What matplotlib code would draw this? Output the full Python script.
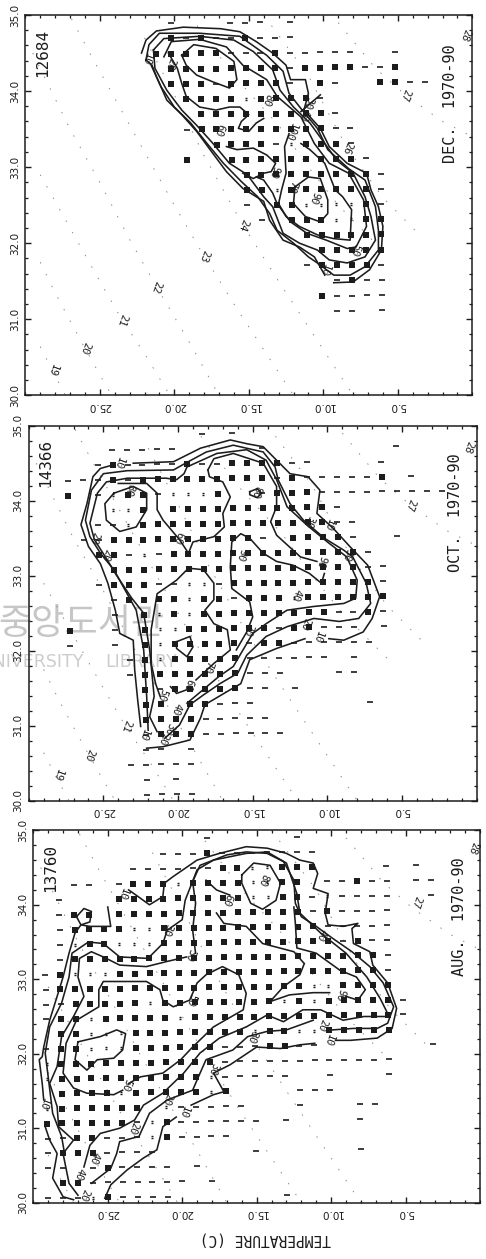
import numpy as np
import matplotlib
matplotlib.use('Agg')
import matplotlib.pyplot as plt
from matplotlib.path import Path
from matplotlib.ticker import MultipleLocator, FixedLocator, FormatStrFormatter
from matplotlib.transforms import Affine2D

INK = '#1c1c1c'
MONO = 'DejaVu Sans Mono'
W, H = 486, 1259
GAP = (np.nan, np.nan)

# station density cells: one string per salinity row, columns are temperature 29..1
# '.' empty, '-' few casts, ':' more, 'o' many
dec_cells = [
    ".........-...---.-",
    ".........o-o--o---",
    "........ooooo---o-----..-",
    ".........oooooooo-oooo--o",
    ".........ooo-oooo-.o-..oo--",
    "..........oooo:oooo-",
    "...........ooooooooo-",
    "..........-ooooooooo--",
    "............oooo-:ooo-",
    "..........o..ooooooooo-",
    "..............ooooooooo-",
    "..............oo:oooooo-",
    "..............-.oo::::o-",
    "...............-.ooo::oo",
    "..................oooooo",
    "...................ooooo",
    "..................-oooo-",
    "....................-o--",
    "...................o----",
    "....................--.-",
]
oct_cells = [
    "...........-.-",
    ".....-----.....-........-",
    "....-o----o--oooo--....-",
    "..---o-ooooooooo-o-----o.-",
    "..o.-:oo-:::o..-ooo---------",
    ".....::o.ooooooooooo-",
    "....--:ooooooooooooo--",
    "...--oooooooooo-.oooo-..-",
    "....oo-:-ooooooooooooo-",
    ".....ooooooooooooooooo--",
    "....-ooo--::-oooooooooo-",
    ".....-oooo:oo-ooo:oooooo",
    ".....-.o:o:ooooooooo--o-",
    "..o..-.o::oooooo-oo---.-",
    "..-..-.o:ooooo-oo------",
    "......-o:ooooo------.-",
    "......-ooooooo---...--",
    ".......o-ooooo--.-",
    ".......oo.oo---.......-",
    ".......oooo-----",
    ".......-ooo------",
    ".......--.-",
    "......-----",
    ".......-.-",
    ".......----",
]
aug_cells = [
    "...........-.....-",
    "........---o-------",
    "......------oo::ooo....-.-",
    "..--.-ooo:oooo::oo.--o--.--",
    ".-...ooooooooo::oo-:----..-",
    ".-oo.ooooooooooooo-o----",
    ".-oooo::ooooooooooo-----",
    ".-:oo:::oooooooooooo-o--",
    ".-ooooooooooooooooooooo-",
    "-o:::oooooooooooooooooo-",
    "-ooooooooooooooooo::oooo",
    "--ooooo:oooooooo:o:ooooo-",
    "-oo:ooooo:oooooooooooooo-",
    ".oo:::oooooooo:oo::ooooo",
    "-oo:::oooooo---oo--.......-",
    ":ooooooooooo------------",
    ":oooooooooo:-----..-...-",
    ".oooo:ooooo:o....---",
    ":oooooo.:-----...-...--",
    "oooooo-:o------.-....-",
    "--oo---:o----",
    "-ooo----......-......-",
    "--.-o----.-",
    ".oo-------.-",
    "---:o----.......-",
]
cell_temps_dec = [t + 0.13 for t in range(29, 0, -1)]
cell_temps_oct = [t + 0.25 for t in range(29, 0, -1)]
cell_temps_aug = [t + 0.15 for t in range(29, 0, -1)]
cell_sal_top = 34.9

# isopycnals, same in every panel (temperature, salinity)
sigma_19 = [(29.0, 30.64), (28.2, 30.33), (27.3, 30.0)]
sigma_20 = [(29.0, 31.75), (28.0, 31.35), (27.0, 30.98), (26.0, 30.62), (25.0, 30.27), (24.2, 30.0)]
sigma_21 = [(29.0, 32.9), (27.0, 32.2), (25.0, 31.5), (23.5, 30.99), (22.0, 30.55), (20.3, 30.0)]
sigma_22 = [(29.5, 34.5), (27.0, 33.5), (25.0, 32.8), (23.0, 32.05), (21.2, 31.43), (19.0, 30.7), (17.0, 30.0)]
sigma_23 = [(26.9, 34.95), (25.4, 34.4), (22.0, 33.2), (20.0, 32.5), (18.0, 31.83), (16.0, 31.2), (14.0, 30.6), (12.0, 30.0)]
sigma_24 = [(22.0, 34.7), (20.0, 33.95), (18.0, 33.15), (15.4, 32.24), (13.0, 31.5), (11.0, 30.9), (9.0, 30.3), (8.0, 30.0)]
sigma_25 = [(19.0, 35.0), (16.0, 34.2), (13.0, 33.55), (11.0, 33.0), (9.0, 32.5), (6.0, 31.9)]
sigma_26 = [(14.0, 35.0), (11.0, 34.2), (8.4, 33.25), (6.0, 32.6), (3.5, 32.1)]
sigma_27 = [(9.0, 34.9), (6.5, 34.3), (4.5, 33.95), (2.0, 33.6), (0.0, 33.4)]
sigma_lines = [sigma_19, sigma_20, sigma_21, sigma_22, sigma_23, sigma_24, sigma_25, sigma_26, sigma_27]

# December contours (temperature, salinity)
dec_a = [(22.2, 34.50), (21.9, 34.67), (21.2, 34.79), (19.4, 34.84), (16.9, 34.82), (15.6, 34.78), (14.5, 34.65),
         (13.4, 34.50), (12.5, 34.34), (12.2, 34.15), (11.2, 34.15), (11.0, 33.97), (11.3, 33.75), (10.2, 33.51),
         (9.6, 33.27), (8.4, 33.05), (7.1, 32.92), (6.8, 32.70), (6.3, 32.48), (6.0, 32.22), (6.1, 31.91),
         (6.9, 31.65), (8.0, 31.49), (9.3, 31.48)]
dec_b = [(21.5, 34.34), (21.2, 34.19), (20.5, 33.88), (19.5, 33.69), (18.5, 33.47), (17.6, 33.23), (16.5, 32.94),
         (15.4, 32.72), (14.0, 32.55), (13.6, 32.30), (12.7, 32.04), (11.6, 31.95), (10.6, 31.82), (9.9, 31.58)]
dec_c = [(21.9, 34.41), (21.7, 34.61), (21.0, 34.76), (18.3, 34.76), (15.6, 34.72), (13.8, 34.47), (12.7, 34.26),
         (12.3, 33.97), (11.5, 33.77), (10.4, 33.51), (9.7, 33.23), (8.3, 32.98), (7.2, 32.83), (6.5, 32.48),
         (6.3, 32.17), (6.3, 31.91), (7.2, 31.69), (8.2, 31.58), (9.3, 31.58), (10.4, 31.74), (11.0, 31.82),
         (12.0, 32.00), (13.1, 32.17), (13.6, 32.39), (14.4, 32.61), (15.5, 32.81), (16.7, 33.05), (17.8, 33.31),
         (18.9, 33.58), (20.0, 33.79), (20.9, 34.06), (21.6, 34.36), (21.9, 34.41)]
dec_d = [(21.4, 34.54), (20.7, 34.69), (18.3, 34.72), (16.0, 34.67), (14.7, 34.52), (13.4, 34.28), (12.9, 34.01),
         (12.0, 33.79), (10.9, 33.58), (9.9, 33.31), (9.1, 33.09), (8.0, 32.92), (7.2, 32.61), (6.8, 32.35),
         (6.5, 32.04), (7.2, 31.82), (8.4, 31.74), (9.6, 31.78), (10.4, 31.91), (11.6, 32.00), (12.7, 32.13),
         (13.4, 32.48), (14.0, 32.61), (15.1, 32.90), (16.3, 33.05), (17.4, 33.31), (18.5, 33.55), (19.5, 33.75),
         (20.5, 34.01), (21.3, 34.30), (21.4, 34.54)]
dec_e = [(20.7, 34.45), (20.2, 34.65), (18.3, 34.68), (16.5, 34.58), (15.4, 34.34), (13.8, 34.15), (13.1, 33.93),
         (11.5, 33.66), (10.6, 33.31), (9.6, 33.05), (8.3, 32.92), (7.3, 32.57), (7.1, 32.22), (7.8, 31.95),
         (8.4, 31.93), (9.8, 32.04), (11.1, 32.13), (12.2, 32.28), (13.1, 32.52), (13.4, 32.66), (14.0, 32.83),
         (14.5, 32.87)]
dec_g = [(19.5, 34.47), (18.7, 34.61), (17.2, 34.56), (16.0, 34.39), (15.8, 34.15), (16.3, 34.04), (17.4, 34.12),
         (18.5, 34.21), (19.2, 34.34), (19.5, 34.47)]
dec_h = [(20.4, 34.50), (19.8, 34.30), (19.5, 34.10), (19.2, 33.93), (18.3, 33.79), (17.2, 33.75), (16.3, 33.79),
         (15.6, 33.79), (15.0, 33.69), (15.5, 33.60), (15.7, 33.51), (15.0, 33.47), (14.5, 33.58), (14.0, 33.64)]
dec_i = [(16.5, 33.27), (15.8, 33.23), (14.7, 33.25), (13.8, 33.16), (13.2, 33.05), (13.5, 32.94), (14.0, 32.92),
         (14.7, 32.85), (15.4, 32.92)]
dec_k = [(12.3, 33.44), (12.6, 33.27), (12.5, 32.92), (12.8, 32.70), (13.0, 32.52), (12.5, 32.35), (11.6, 32.22),
         (10.4, 32.11), (9.3, 32.06), (8.2, 32.04), (8.1, 32.44), (8.7, 32.61), (9.2, 32.70), (9.9, 33.05),
         (10.9, 33.23), (11.5, 33.31)]
dec_j = [(11.9, 32.74), (11.0, 32.87), (10.2, 32.85), (9.7, 32.57), (9.7, 32.39), (10.2, 32.28), (11.2, 32.35),
         (12.0, 32.52), (11.9, 32.74)]
dec_x = [(11.5, 33.73), (10.2, 33.95)]
dec_contours = [dec_a, dec_b, dec_c, dec_d, dec_e, dec_g, dec_h, dec_i, dec_k, dec_j, dec_x]

dec_labels = [('10', 21.9, 34.42), ('20', 20.3, 34.36), ('80', 13.8, 33.88), ('60', 17.0, 33.49), ('100', 12.2, 33.47),
              ('90', 13.3, 32.94), ('70', 12.1, 32.74), ('90', 10.6, 32.60), ('50', 7.9, 31.91), ('10', 9.9, 31.65),
              ('30', 11.0, 33.84), ('40', 11.3, 33.69), ('26', 8.4, 33.25), ('19', 28.2, 30.33), ('20', 26.0, 30.62),
              ('21', 23.5, 30.99), ('22', 21.2, 31.43), ('23', 18.0, 31.83), ('24', 15.4, 32.24), ('27', 4.5, 33.95),
              ('28', 0.5, 34.74)]

# October contours
oct_a = [(22.1, 30.70), (21.0, 30.72), (19.2, 30.81), (18.5, 31.10), (18.2, 31.28), (16.5, 31.48), (15.8, 31.56),
         (15.2, 31.88), (13.4, 32.03), (11.5, 32.16), GAP, (9.9, 32.16), (8.9, 32.14), (7.6, 32.25), (7.0, 32.43),
         (6.5, 32.72), (7.3, 33.14), (8.5, 33.39), (9.6, 33.63), (10.7, 33.83), (10.5, 34.14), (11.3, 34.32),
         (12.5, 34.36), (13.4, 34.54), (14.3, 34.72), (15.4, 34.76), (16.5, 34.81), (18.5, 34.70), (20.3, 34.52),
         (23.0, 34.50), GAP, (24.3, 34.48), (25.2, 34.43), (25.7, 34.32), (26.1, 33.96), (26.5, 33.68), (26.0, 33.39),
         (25.2, 33.16), (24.7, 32.90), (24.2, 32.54), (23.9, 32.23), (23.0, 32.14), (22.9, 31.74), (22.7, 31.34),
         (22.5, 30.99)]
oct_b = [(22.0, 30.94), (22.1, 31.39), (22.3, 32.01), (22.8, 32.54), (23.3, 32.72), (24.3, 33.08), (25.2, 33.30),
         (25.9, 33.52), (26.2, 33.74), (25.8, 34.14), (25.0, 34.36), (23.4, 34.40), (20.3, 34.41), (19.5, 34.50),
         (18.1, 34.65), (16.3, 34.74), (14.3, 34.65), (13.5, 34.45), (13.3, 34.28), (12.5, 33.96), (11.6, 33.74),
         (10.2, 33.50), (8.9, 33.34), (8.3, 33.25), (7.4, 32.90), (7.1, 32.63), (7.9, 32.43), (9.2, 32.39),
         (10.9, 32.43), (12.7, 32.32), (14.1, 32.19), (15.4, 31.94), (16.0, 31.70), (17.2, 31.56), (18.3, 31.41),
         (19.2, 31.28), (19.9, 31.01), (20.9, 30.83)]
oct_c = [(21.4, 30.92), (21.9, 31.12), (21.6, 31.39), (21.9, 32.01), (22.3, 32.50), (23.1, 32.70), (24.2, 33.03),
         (24.8, 33.23), (25.6, 33.48), (25.9, 33.70), (25.4, 34.10), (24.8, 34.25), (23.4, 34.30), (20.8, 34.30),
         (20.1, 34.28), (19.6, 34.36), (19.4, 34.45), (17.4, 34.63), (15.4, 34.68), (14.1, 34.54), (13.4, 34.28),
         (12.7, 33.92), (11.4, 33.68), (10.0, 33.45), (8.7, 33.25), (8.0, 32.94), (8.1, 32.70), (8.9, 32.63),
         (10.9, 32.59), (12.7, 32.54), (14.1, 32.36), (15.0, 32.23), (16.3, 31.79), (17.3, 31.65), (18.5, 31.45),
         (19.4, 31.30)]
oct_d = [(21.2, 31.39), (21.5, 31.56), (21.8, 31.83), (21.8, 32.28), (21.4, 32.76), (20.1, 32.94), (19.3, 33.10),
         (18.3, 33.08), (17.6, 32.90), (17.6, 32.68), (18.2, 32.54), (17.6, 32.36), (16.7, 32.28), (16.5, 32.01),
         (17.6, 31.83), (18.8, 31.61)]
oct_d2 = [(20.5, 31.52), (20.1, 31.43), (19.4, 31.48)]
oct_e = [(18.0, 34.41), (17.9, 34.32), (17.0, 34.25), (16.5, 34.05), (17.0, 33.83), (16.9, 33.65), (17.6, 33.52),
         (19.0, 33.45), (19.3, 33.30), (19.9, 33.48), (21.0, 33.74), (21.4, 33.88), (21.4, 34.10), (22.1, 34.23),
         (24.0, 34.23)]
oct_e2 = [(18.0, 34.41), (17.6, 34.56), (16.3, 34.63), (14.3, 34.50), (13.4, 34.19), (13.4, 33.92), (13.8, 33.72),
          (13.4, 33.54), (11.8, 33.25), (10.7, 33.19)]
oct_e3 = [(10.2, 33.03), (10.4, 32.90), (11.2, 33.03), (12.3, 33.14), (13.4, 33.19), (14.3, 33.30), (15.2, 33.50),
          (15.8, 33.56), (16.4, 33.45), (16.5, 33.12), (16.4, 32.83), (15.2, 32.65), (15.0, 32.45), (15.4, 32.25),
          (16.1, 32.01)]
oct_f = [(24.3, 34.10), (23.0, 34.19), (22.1, 34.10), (22.1, 33.88), (22.8, 33.65), (23.9, 33.59), (24.8, 33.74),
         (24.9, 33.96), (24.3, 34.10)]
oct_g = [(15.2, 34.12), (14.7, 34.16), (14.4, 34.10), (14.7, 34.04), (15.2, 34.08), (15.2, 34.12)]
oct_h = [(20.1, 32.12), (19.2, 32.19), (19.0, 32.05), (19.4, 31.92), (20.1, 32.03), (20.1, 32.12)]
oct_contours = [oct_a, oct_b, oct_c, oct_d, oct_d2, oct_e, oct_e2, oct_e3, oct_f, oct_g, oct_h]

oct_labels = [('10', 24.0, 34.50), ('10', 22.3, 30.88), ('10', 10.7, 32.19), ('10', 9.9, 33.68), ('20', 11.5, 32.36),
              ('20', 25.6, 33.50), ('20', 24.8, 33.28), ('20', 21.0, 30.83), ('30', 20.6, 30.96), ('40', 20.1, 31.23),
              ('40', 12.1, 32.74), ('50', 21.1, 31.41), ('60', 19.3, 31.54), ('60', 20.0, 33.50), ('70', 18.0, 31.79),
              ('70', 15.3, 32.28), ('80', 14.8, 34.12), ('80', 23.3, 34.14), ('90', 15.8, 33.28), ('90', 10.4, 33.19),
              ('30', 11.2, 33.72), ('30', 8.7, 33.28), ('19', 28.1, 30.34), ('20', 26.0, 30.61), ('21', 23.5, 31.00),
              ('27', 4.5, 33.94), ('28', 0.6, 34.72)]

# August contours
aug_a = [(25.2, 30.06), (24.8, 30.24), (23.7, 30.44), (22.6, 30.60), (21.7, 30.71), (21.3, 31.02), (20.4, 31.15), GAP,
         (19.4, 31.31), (17.9, 31.45), (17.2, 31.49), (17.7, 31.67), (17.9, 31.74), (16.8, 31.85), (15.0, 32.09),
         (13.4, 32.07), (12.1, 32.12), (11.1, 32.14), GAP, (9.7, 32.18), (8.7, 32.18), (6.9, 32.21), (5.9, 32.34),
         (5.6, 32.61), (6.2, 32.95), (7.2, 33.19), (7.4, 33.37), (8.5, 33.48), (8.6, 33.68), (8.2, 33.75), (9.2, 33.71),
         (10.2, 33.73), (10.4, 33.89), (10.2, 34.15), (11.2, 34.22), (10.9, 34.42), (11.2, 34.56), (12.1, 34.60),
         (13.0, 34.69), (14.3, 34.76), (15.7, 34.78), (17.5, 34.69), (19.0, 34.60), (20.6, 34.38), (21.2, 34.29),
         (21.3, 34.11), (22.2, 34.00), (23.1, 34.13), (23.6, 34.20), GAP, (25.0, 33.97), (24.8, 33.71), (26.2, 33.71),
         (26.8, 33.73), (27.2, 33.62), (27.6, 33.35), (28.0, 33.03), (28.4, 32.77), (28.9, 32.45), (29.3, 32.09),
         (29.4, 31.96), (29.6, 31.92), (29.4, 31.60), (29.3, 31.38), GAP, (29.2, 31.02), (28.9, 30.84), (28.4, 30.66),
         (28.7, 30.33), (28.0, 30.08), (27.3, 30.04)]
aug_loop = [(27.1, 33.84), (26.6, 33.95), (26.1, 33.91), (26.2, 33.77), (26.8, 33.73), (27.1, 33.84)]
aug_b = [(26.1, 30.26), (24.8, 30.46), (24.4, 30.66), (24.2, 30.82), (22.9, 30.89), (22.2, 31.20), (21.0, 31.38),
         (19.3, 31.51), (18.8, 31.74), (18.4, 31.92), (16.6, 32.05), (15.6, 32.23), (14.3, 32.30), (13.0, 32.32),
         (11.2, 32.45), GAP, (9.9, 32.32), (8.5, 32.34), (6.9, 32.34), (6.2, 32.41), (5.8, 32.63), (6.5, 32.95),
         (7.4, 33.17), (8.6, 33.37), (9.9, 33.55), (11.0, 33.71), (12.0, 33.84), (12.4, 34.02), (12.5, 34.33),
         (13.2, 34.58), (14.3, 34.69), (15.7, 34.71), (17.0, 34.67), (18.8, 34.53), (19.3, 34.31), (19.1, 34.02),
         (19.3, 33.66), (19.1, 33.35), GAP, (19.7, 33.30), (21.0, 33.24), (22.4, 33.17), (24.2, 33.19), (25.3, 33.30),
         (26.1, 33.37), (26.9, 33.28), (27.0, 33.03), (26.6, 32.77), (27.3, 32.50), (28.1, 32.23), (28.4, 31.83),
         (28.9, 31.60), (28.4, 31.29), (28.3, 31.02), (27.3, 30.84), (28.0, 30.66), (27.6, 30.26), (27.0, 30.10)]
aug_c = [(27.9, 30.66), (28.1, 30.89), (28.7, 31.20), (29.0, 31.69), (29.2, 32.01), (28.9, 32.36), (28.1, 32.68),
         (27.6, 33.03), (27.4, 33.35), (26.3, 33.50), (25.3, 33.48), (24.2, 33.30), (22.3, 33.28), (21.3, 33.48),
         (21.0, 33.66), (20.0, 33.80), (19.8, 34.06), (19.0, 34.47), (17.9, 34.60), (15.7, 34.69), (14.3, 34.71),
         (13.0, 34.56), (12.3, 34.15), (12.1, 33.89), (10.7, 33.62), (9.0, 33.35), (7.6, 33.03), (6.7, 32.74),
         (6.2, 32.54), (6.2, 32.50), (7.8, 32.50), (9.2, 32.45), (10.7, 32.59), (11.9, 32.59), (13.2, 32.43),
         (14.3, 32.52), (15.7, 32.36), (17.5, 32.21), (18.8, 32.01), (19.9, 31.74), (21.3, 31.47), (22.6, 31.31),
         (23.2, 31.11), (24.2, 31.00), (25.5, 30.93), (26.2, 30.77), (26.6, 30.48)]
aug_d = [(23.6, 31.60), (22.8, 31.69), (21.3, 31.74), (20.1, 31.92), (19.3, 32.09), (17.9, 32.36), (15.9, 32.59),
         (15.7, 32.81), (16.2, 33.06), (17.3, 33.17), (18.4, 33.06), (19.0, 32.95), (19.5, 32.72), (20.6, 32.63),
         (21.3, 32.72), (21.5, 32.86), (22.4, 32.97), (25.3, 32.97), (25.6, 32.86), (25.6, 32.63), (27.1, 32.45),
         (27.8, 32.14), (28.0, 31.74), (27.3, 31.54), (26.4, 31.47), (24.6, 31.45), (24.0, 31.51)]
aug_e = [(27.0, 32.16), (25.5, 32.23), (24.4, 32.32), (23.8, 32.27), (24.0, 32.05), (24.6, 31.94), (25.7, 31.92),
         (26.4, 31.78), (27.2, 31.92), (27.0, 32.16)]
aug_f = [(16.0, 34.40), (15.2, 34.56), (14.1, 34.53), (13.4, 34.29), (13.7, 34.06), (14.6, 33.94), (15.4, 34.02),
         (16.0, 34.29), (16.0, 34.40)]
aug_g = [(18.4, 34.33), (17.7, 34.20), (16.8, 34.13), GAP, (17.7, 33.89), (17.2, 33.75), (15.7, 33.71), (14.6, 33.48),
         (12.5, 33.37), (11.8, 33.21), (12.1, 33.06), (13.2, 32.90), (14.1, 32.70), (12.8, 32.79), (11.2, 32.82),
         (10.1, 32.82)]
aug_g2 = [(9.0, 32.77), (8.2, 32.72), (7.7, 32.86), (8.3, 33.03), (9.4, 33.12), (11.0, 33.35), (12.3, 33.42),
          (12.4, 33.75), (12.5, 33.97)]
aug_contours = [aug_a, aug_loop, aug_b, aug_c, aug_d, aug_e, aug_f, aug_g, aug_g2]

aug_labels = [('10', 24.0, 34.15), ('10', 29.3, 31.33), ('10', 19.9, 31.22), ('10', 10.2, 32.18), ('20', 26.6, 30.10),
              ('20', 10.6, 32.39), ('20', 21.0, 31.40), ('20', 23.3, 31.00), ('30', 21.0, 33.66), ('30', 19.5, 33.33),
              ('30', 17.9, 31.80), ('30', 15.3, 32.23), ('40', 26.9, 30.39), ('40', 25.9, 30.60), ('50', 19.4, 32.72),
              ('50', 23.8, 31.58), ('60', 17.0, 34.06), ('80', 14.6, 34.33), ('90', 9.4, 32.79), ('40', 10.7, 33.59),
              ('27', 4.3, 34.04), ('28', 0.5, 34.77)]

# double dash marker for cells with a mid number of casts
DOUBLE = Path([[-1, -0.55], [1, -0.55], [-1, 0.55], [1, 0.55]],
              [Path.MOVETO, Path.LINETO, Path.MOVETO, Path.LINETO])


def make_axes(fig, left, right, top, bottom):
    ax = fig.add_axes([left / W, 1 - bottom / H, (right - left) / W, (bottom - top) / H])
    ax.set_xlim(30, 0)
    ax.set_ylim(30, 35)
    ax.patch.set_visible(False)
    ax.xaxis.set_major_locator(FixedLocator([25, 20, 15, 10, 5]))
    ax.xaxis.set_minor_locator(MultipleLocator(1))
    ax.yaxis.set_major_locator(MultipleLocator(1))
    ax.yaxis.set_minor_locator(MultipleLocator(0.2))
    ax.xaxis.set_major_formatter(FormatStrFormatter('%.1f'))
    ax.yaxis.set_major_formatter(FormatStrFormatter('%.1f'))
    ax.tick_params(which='major', direction='in', top=True, right=True, length=4, width=1.0, color=INK, pad=4)
    ax.tick_params(which='minor', direction='in', top=True, right=True, length=2.2, width=0.9, color=INK)
    for lab in ax.get_xticklabels():
        lab.set(rotation=180, family=['Liberation Sans Narrow', 'DejaVu Sans'], fontsize=7.5, color=INK)
    for lab in ax.get_yticklabels():
        lab.set(rotation=90, va='center', family=['Liberation Sans Narrow', 'DejaVu Sans'], fontsize=7.5, color=INK)
    for spine in ax.spines.values():
        spine.set_linewidth(1.1)
        spine.set_color(INK)
    return ax


def draw_cells(ax, cells, temps, tilt):
    # the scan is turned slightly, so the regular grid gets turned with it
    centre = ax.transAxes.transform((0.5, 0.5))
    trans = ax.transData + Affine2D().rotate_deg_around(centre[0], centre[1], tilt)
    for kind, marker, size, width in [('o', 's', 4.0, 0), ('-', '_', 4.4, 1.2), (':', DOUBLE, 2.1, 1.0)]:
        xs, ys = [], []
        for r, row in enumerate(cells):
            for c, ch in enumerate(row):
                if ch == kind:
                    xs.append(temps[c])
                    ys.append(cell_sal_top - 0.2 * r)
        ax.plot(xs, ys, ls='none', marker=marker, ms=size, mew=width, mfc=INK, mec=INK, transform=trans, zorder=2)


def draw_panel(ax, cells, temps, tilt, contours, labels, count, period, count_y, period_x):
    for line in sigma_lines:
        t, s = zip(*line)
        ax.plot(t, s, color='#8c8c8c', lw=0.7, ls=(0, (1.5, 12)), zorder=1)
    draw_cells(ax, cells, temps, tilt)
    for line in contours:
        t, s = zip(*line)
        ax.plot(t, s, color=INK, lw=1.15, solid_joinstyle='round', zorder=3)
    for text, t, s in labels:
        ax.text(t, s, text, fontsize=7.5, family=MONO, color=INK, rotation=250, ha='center', va='center',
                rotation_mode='anchor', zorder=4)
    ax.text(0.038, count_y, count, transform=ax.transAxes, rotation=90, family=MONO, fontsize=11.5, color=INK,
            ha='center', va='center')
    ax.text(period_x, 0.768, period, transform=ax.transAxes, rotation=90, family=MONO, fontsize=11, color=INK,
            ha='center', va='center')


fig = plt.figure(figsize=(W / 100, H / 100), dpi=100)

# library watermark of the scan, behind the middle panel
fig.text(-2 / W, 1 - 624 / H, '중앙도서관', family=['Noto Sans CJK KR', 'DejaVu Sans'], fontsize=26,
         color='#c6c6c6', ha='left', va='center', zorder=-1)
fig.text(84 / W, 1 - 662 / H, 'UNIVERSITY', family='DejaVu Sans', fontsize=12.5, color='#cccccc',
         ha='right', va='center', zorder=-1)
fig.text(105 / W, 1 - 662 / H, 'LIBRARY', family='DejaVu Sans', fontsize=12.5, color='#cccccc',
         ha='left', va='center', zorder=-1)

ax_dec = make_axes(fig, 25.3, 472.3, 15.0, 395.3)
ax_oct = make_axes(fig, 28.7, 476.7, 425.7, 800.7)
ax_aug = make_axes(fig, 33.3, 480.0, 830.3, 1202.7)

draw_panel(ax_dec, dec_cells, cell_temps_dec, 0.5, dec_contours, dec_labels, '12684', 'DEC.  1970-90', 0.90, 0.951)
draw_panel(ax_oct, oct_cells, cell_temps_oct, 0.75, oct_contours, oct_labels, '14366', 'OCT.  1970-90', 0.90, 0.952)
draw_panel(ax_aug, aug_cells, cell_temps_aug, 0.8, aug_contours, aug_labels, '13760', 'AUG.  1970-90', 0.90, 0.955)

ax_aug.set_xlabel('TEMPERATURE (C)', family=MONO, fontsize=10.5, rotation=180, color=INK)
ax_aug.xaxis.set_label_coords(0.519, -0.098)
ax_aug.xaxis.label.set_va('center')

fig.savefig('out.png', dpi=100)
